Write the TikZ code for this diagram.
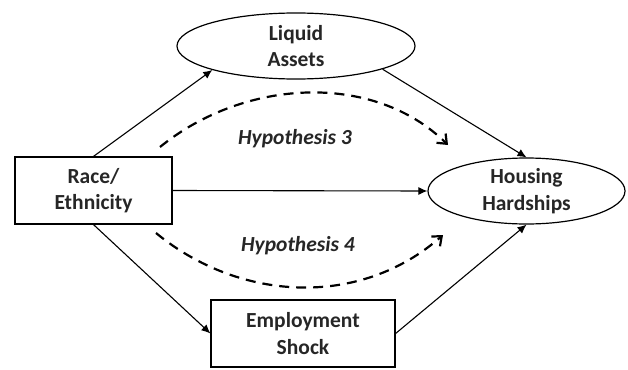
\documentclass[tikz,border=0pt]{standalone}
\usepackage{fontspec}
\setmainfont{Carlito}
\usetikzlibrary{shapes.geometric,arrows.meta}
\begin{document}
\begin{tikzpicture}[x=1pt,y=-1pt,
  lab/.style={font=\fontsize{21.5}{26.5}\selectfont\bfseries, align=center, text=black!85},
  boxnode/.style={lab, draw, line width=1.2pt, inner sep=0pt},
  ellnode/.style={lab, draw, ellipse, line width=1.2pt, inner sep=0pt},
  solidarrow/.style={line width=1.1pt, -{Latex[length=9pt,width=8pt]}},
  dasharrow/.style={line width=2.2pt, dash pattern=on 10pt off 7pt, -{Straight Barb[length=8pt,width=13pt]}},
  hyp/.style={font=\fontsize{21.5}{26}\selectfont\bfseries\itshape, text=black!85}]
\useasboundingbox (0,0) rectangle (628,369);
\node[ellnode, minimum width=238pt, minimum height=66pt] (liq) at (296,46) {Liquid\\Assets};
\node[boxnode, minimum width=157pt, minimum height=67pt] (race) at (93.5,190.5) {Race/\\Ethnicity};
\node[ellnode, minimum width=197pt, minimum height=66pt] (hous) at (526.5,191) {Housing\\Hardships};
\node[boxnode, minimum width=184pt, minimum height=67pt] (emp) at (303,333.5) {Employment\\Shock};
\node[hyp] (h3) at (295,139) {Hypothesis 3};
\node[hyp] (h4) at (298,246) {Hypothesis 4};
\draw[solidarrow] (race.north) -- (liq.196);
\draw[solidarrow] (liq.345) -- (hous.north);
\draw[solidarrow] (race.east) -- (hous.west);
\draw[solidarrow] (race.south) -- (emp.west);
\draw[solidarrow] (emp.east) -- (hous.south);
\coordinate (d3s) at (160,147);
\coordinate (d3e) at (448,145);
\coordinate (d4s) at (156,233);
\coordinate (d4e) at (443,235);
\draw[dasharrow] (d3s) .. controls (245,78) and (374,72) .. (d3e);
\draw[dasharrow] (d4s) .. controls (240,302) and (360,308) .. (d4e);
\end{tikzpicture}
\end{document}
